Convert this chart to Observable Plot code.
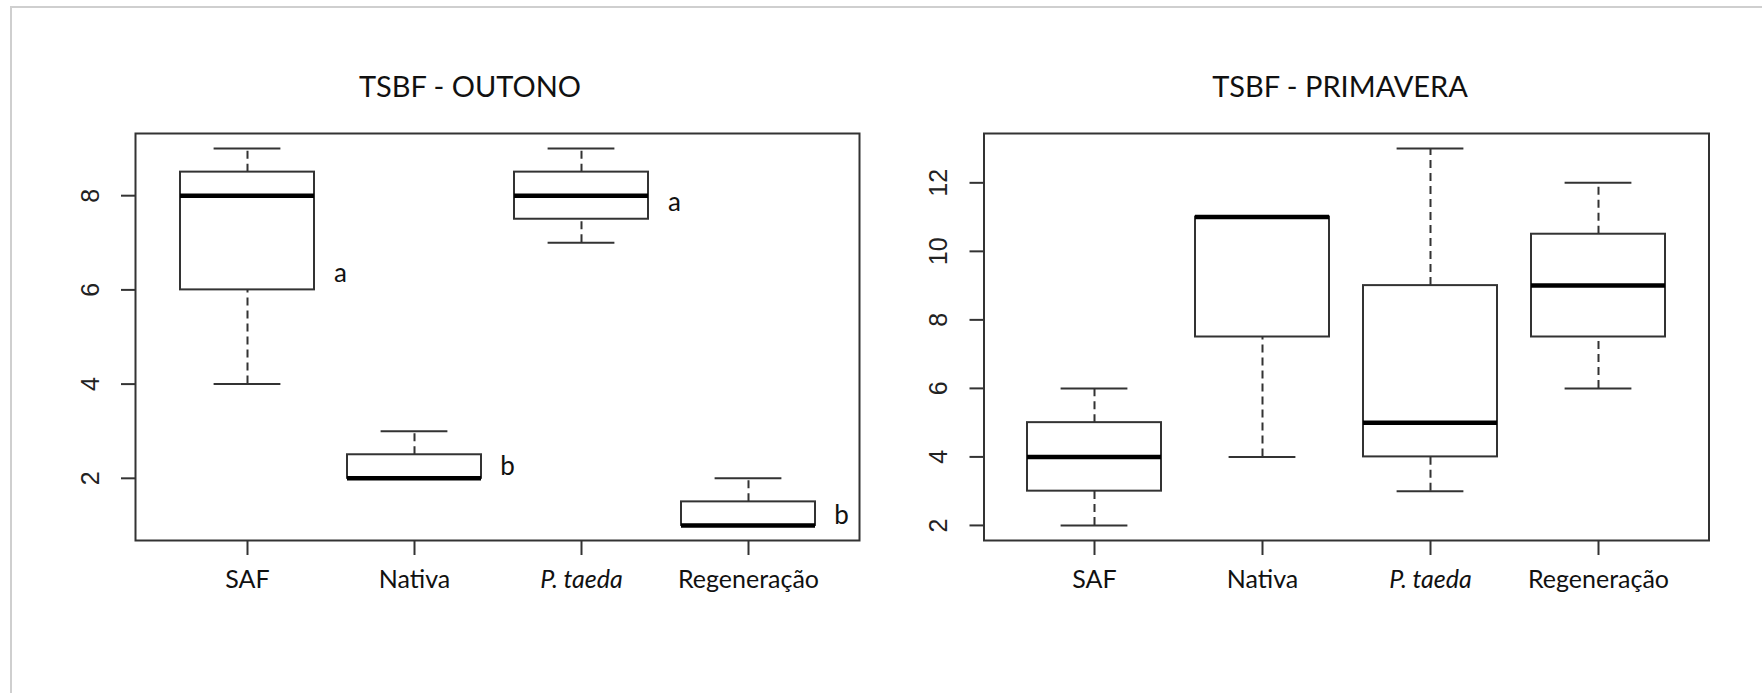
<!DOCTYPE html>
<html>
<head>
<meta charset="utf-8">
<script src="https://cdn.jsdelivr.net/npm/d3@7"></script>
<script src="https://cdn.jsdelivr.net/npm/@observablehq/plot@0.6"></script>
<style>
  html, body { margin: 0; padding: 0; background: #fff; }
  #page { position: relative; width: 1762px; height: 693px; overflow: hidden; background: #fff; }
  #border { position: absolute; left: 10px; top: 6px; width: 1800px; height: 800px;
            border-left: 2px solid #cfcfcf; border-top: 2px solid #cfcfcf; }
  .title { position: absolute; font-family: Lato, sans-serif; font-size: 29px; line-height: 29px;
           color: #111; white-space: nowrap; transform: translateX(-50%); }
  .panel { position: absolute; top: 0; }
</style>
</head>
<body>
<div id="page">
  <div id="border"></div>
  <div class="title" id="t0" style="left:470px; top:71px;"></div>
  <div class="title" id="t1" style="left:1340px; top:71px;"></div>
  <div class="panel" id="p0" style="left:0px;"></div>
  <div class="panel" id="p1" style="left:880px;"></div>
</div>
<script>
// ---- data ----
const categories = ["SAF", "Nativa", "P. taeda", "Regeneração"];
const italicCategories = ["P. taeda"];
const titles = ["TSBF - OUTONO", "TSBF - PRIMAVERA"];

const outonoMin    = [4, 2, 7, 1];
const outonoQ1     = [6, 2, 7.5, 1];
const outonoMedian = [8, 2, 8, 1];
const outonoQ3     = [8.5, 2.5, 8.5, 1.5];
const outonoMax    = [9, 3, 9, 2];
const outonoTicks  = [2, 4, 6, 8];
const outonoLetters = ["a", "b", "a", "b"];
const outonoLetterY = [6.35, 2.25, 7.85, 1.2];

const primaveraMin    = [2, 4, 3, 6];
const primaveraQ1     = [3, 7.5, 4, 7.5];
const primaveraMedian = [4, 11, 5, 9];
const primaveraQ3     = [5, 11, 9, 10.5];
const primaveraMax    = [6, 11, 13, 12];
const primaveraTicks  = [2, 4, 6, 8, 10, 12];

// ---- build ----
function table(mins, q1s, meds, q3s, maxs) {
  return categories.map((c, i) => ({cat: c, min: mins[i], q1: q1s[i], med: meds[i], q3: q3s[i], max: maxs[i]}));
}

const LINE = "#333";

function panel({rows, ticks, letters, letterY, width, marginLeft, marginRight}) {
  const lo = d3.min(rows, d => d.min), hi = d3.max(rows, d => d.max);
  const pad = (hi - lo) * 0.04;
  const plainCats = categories.filter(c => !italicCategories.includes(c));
  const marks = [
    Plot.ruleX(rows, {x: "cat", y1: "q3", y2: "max", stroke: LINE, strokeWidth: 2, strokeDasharray: "8,5"}),
    Plot.ruleX(rows, {x: "cat", y1: "min", y2: "q1", stroke: LINE, strokeWidth: 2, strokeDasharray: "8,5"}),
    Plot.tickY(rows, {x: "cat", y: "max", stroke: LINE, strokeWidth: 2, insetLeft: 33.6, insetRight: 33.6}),
    Plot.tickY(rows, {x: "cat", y: "min", stroke: LINE, strokeWidth: 2, insetLeft: 33.6, insetRight: 33.6}),
    Plot.barY(rows, {x: "cat", y1: "q1", y2: "q3", fill: "white", stroke: LINE, strokeWidth: 2}),
    Plot.tickY(rows, {x: "cat", y: "med", stroke: "#000", strokeWidth: 4.5}),
    Plot.frame({stroke: LINE, strokeWidth: 2}),
    Plot.axisY(ticks, {tickSize: 14, stroke: LINE, strokeWidth: 2, fill: "none"}),
    Plot.text(ticks, {y: d => d, text: d => String(d), frameAnchor: "left", dx: -45, rotate: -90,
      textAnchor: "middle", lineAnchor: "middle", fontFamily: "Liberation Sans, Arial, sans-serif",
      fontSize: 25, fill: "#222"}),
    Plot.axisX(categories, {tickSize: 15, stroke: LINE, strokeWidth: 2, fill: "none"}),
    Plot.text(plainCats, {x: d => d, text: d => d, frameAnchor: "bottom", dy: 30, lineAnchor: "top",
      fontFamily: "Lato, sans-serif", fontSize: 25, fill: "#111"}),
    Plot.text(italicCategories, {x: d => d, text: d => d, frameAnchor: "bottom", dy: 30, lineAnchor: "top",
      fontFamily: "Lato, sans-serif", fontSize: 25, fontStyle: "italic", fill: "#111"})
  ];
  if (letters) {
    marks.push(Plot.text(categories.map((c, i) => ({cat: c, y: letterY[i], t: letters[i]})),
      {x: "cat", y: "y", text: "t", dx: 93, textAnchor: "middle", lineAnchor: "middle",
       fontFamily: "Lato, sans-serif", fontSize: 26, fill: "#111"}));
  }
  return Plot.plot({
    width, height: 693,
    marginLeft, marginRight, marginTop: 133, marginBottom: 153,
    style: {background: "transparent", overflow: "visible", fontFamily: "Lato, sans-serif"},
    x: {type: "band", domain: categories, paddingInner: 0.2, paddingOuter: 0.255, axis: null},
    y: {domain: [lo - pad, hi + pad], axis: null},
    marks
  });
}

document.getElementById("t0").textContent = titles[0];
document.getElementById("t1").textContent = titles[1];

document.getElementById("p0").appendChild(panel({
  rows: table(outonoMin, outonoQ1, outonoMedian, outonoQ3, outonoMax),
  ticks: outonoTicks, letters: outonoLetters, letterY: outonoLetterY,
  width: 880, marginLeft: 135, marginRight: 21
}));
document.getElementById("p1").appendChild(panel({
  rows: table(primaveraMin, primaveraQ1, primaveraMedian, primaveraQ3, primaveraMax),
  ticks: primaveraTicks,
  width: 882, marginLeft: 103.5, marginRight: 53.5
}));
</script>
</body>
</html>
